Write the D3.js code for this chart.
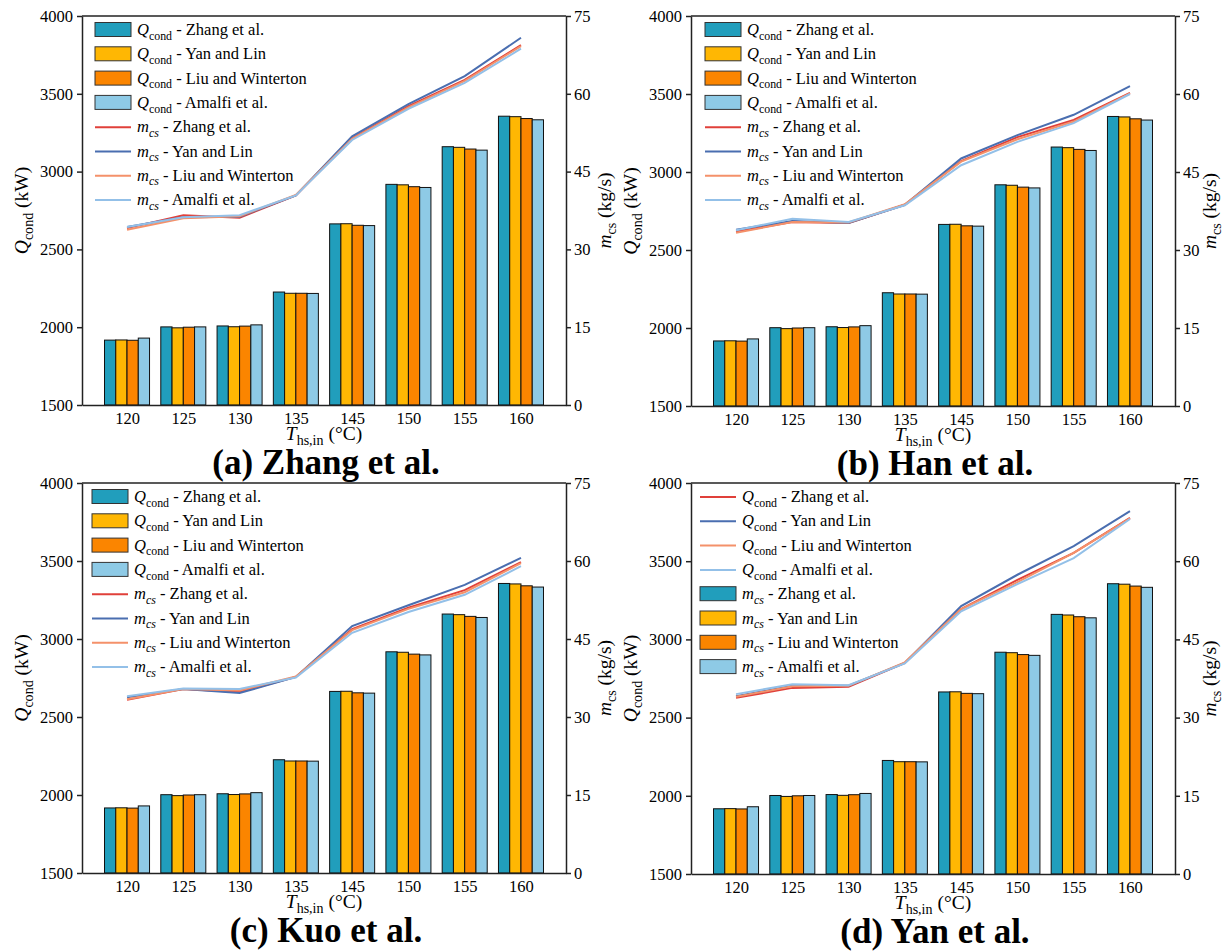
<!DOCTYPE html>
<html>
<head>
<meta charset="utf-8">
<script src="https://cdn.jsdelivr.net/npm/d3@7"></script>
<style>
  body { margin: 0; background: #fff; }
  svg { display: block; }
  text { font-family: "Liberation Serif", "Times New Roman", serif; fill: #000; }
</style>
</head>
<body>
<svg id="chart" width="1226" height="951"></svg>
<script>
// Heat-source inlet temperatures (°C)
const categories = ["120", "125", "130", "135", "145", "150", "155", "160"];
const qTicks = [1500, 2000, 2500, 3000, 3500, 4000];
const mTicks = [0, 15, 30, 45, 60, 75];
const correlations = ["Zhang et al.", "Yan and Lin", "Liu and Winterton", "Amalfi et al."];
const panelTitles = ["(a) Zhang et al.", "(b) Han et al.", "(c) Kuo et al.", "(d) Yan et al."];

// Condenser heat load Q_cond (kW) per condensation correlation
const qcondZhang  = [1917, 2002, 2008, 2226, 2664, 2918, 3160, 3356];
const qcondYan    = [1918, 1996, 2003, 2218, 2665, 2915, 3156, 3353];
const qcondLiu    = [1916, 2000, 2007, 2218, 2655, 2903, 3145, 3341];
const qcondAmalfi = [1930, 2002, 2015, 2217, 2653, 2898, 3138, 3333];

// Cooling-stream mass flow m_cs (kg/s), panel (a) Zhang et al. evaporation
const mcsA_Zhang  = [34.1, 36.6, 36.1, 40.4, 51.4, 57.6, 62.7, 69.4];
const mcsA_Yan    = [34.3, 36.2, 36.3, 40.4, 51.8, 58.0, 63.4, 70.8];
const mcsA_Liu    = [33.8, 36.0, 36.4, 40.5, 51.3, 57.4, 62.5, 69.2];
const mcsA_Amalfi = [34.3, 36.2, 36.6, 40.4, 51.1, 57.1, 62.1, 68.7];
// panel (b) Han et al.
const mcsB_Zhang  = [33.5, 35.4, 35.2, 38.7, 47.1, 51.7, 55.0, 60.2];
const mcsB_Yan    = [33.9, 35.6, 35.2, 38.7, 47.6, 52.1, 56.0, 61.5];
const mcsB_Liu    = [33.3, 35.4, 35.3, 38.8, 47.0, 51.3, 54.7, 60.1];
const mcsB_Amalfi = [33.8, 36.0, 35.4, 38.6, 46.3, 50.8, 54.4, 60.0];
// panel (c) Kuo et al.
const mcsC_Zhang  = [33.3, 35.4, 34.8, 37.7, 46.9, 51.0, 54.4, 59.8];
const mcsC_Yan    = [33.8, 35.4, 34.6, 37.7, 47.5, 51.5, 55.4, 60.6];
const mcsC_Liu    = [33.4, 35.4, 35.1, 37.8, 46.7, 50.8, 54.0, 59.6];
const mcsC_Amalfi = [34.0, 35.5, 35.4, 37.6, 46.2, 50.2, 53.5, 59.0];
// panel (d) Yan et al.
const mcsD_Zhang  = [33.8, 35.7, 35.9, 40.5, 50.8, 56.4, 61.6, 68.3];
const mcsD_Yan    = [34.1, 36.1, 36.1, 40.5, 51.4, 57.4, 62.9, 69.6];
const mcsD_Liu    = [34.0, 36.0, 36.1, 40.6, 50.8, 56.0, 61.6, 68.2];
const mcsD_Amalfi = [34.5, 36.4, 36.2, 40.4, 50.4, 55.6, 60.6, 68.1];

const barColors  = ["#219EBC", "#FFB703", "#FB8500", "#8ECAE6"];
const lineColors = ["#E0403A", "#4A6EB0", "#F4916A", "#93C0E8"];

const barSeries = [qcondZhang, qcondYan, qcondLiu, qcondAmalfi];
const lineSeries = [
  [mcsA_Zhang, mcsA_Yan, mcsA_Liu, mcsA_Amalfi],
  [mcsB_Zhang, mcsB_Yan, mcsB_Liu, mcsB_Amalfi],
  [mcsC_Zhang, mcsC_Yan, mcsC_Liu, mcsC_Amalfi],
  [mcsD_Zhang, mcsD_Yan, mcsD_Liu, mcsD_Amalfi]
];

// Panel frames
const panels = [
  { x0: 82,  x1: 566,  y0: 16,  y1: 405, legendDx: 13, rightDx: 45, swapLegend: false },
  { x0: 691, x1: 1175, y0: 16,  y1: 406, legendDx: 14, rightDx: 41, swapLegend: false },
  { x0: 82,  x1: 566,  y0: 483, y1: 873, legendDx: 10, rightDx: 45, swapLegend: false },
  { x0: 691, x1: 1175, y0: 483, y1: 874, legendDx: 9,  rightDx: 41, swapLegend: true }
];

const svg = d3.select("#chart");
const serif = "'Liberation Serif', 'Times New Roman', serif";
const tickFont = 16.5, labelFont = 19.5, legendFont = 16.5;

// Writes a run of text parts (italic / subscript) into a text element
function rich(textSel, parts, fs) {
  let shifted = false;
  parts.forEach(p => {
    const ts = textSel.append("tspan").text(p.t);
    if (p.italic) ts.attr("font-style", "italic");
    if (p.sub) {
      ts.attr("font-size", fs * 0.72);
      if (!shifted) { ts.attr("dy", fs * 0.28); shifted = true; }
    } else {
      ts.attr("font-size", fs);
      if (shifted) { ts.attr("dy", -fs * 0.28); shifted = false; }
    }
  });
}

const qLabel = [{ t: "Q", italic: true }, { t: "cond", sub: true }, { t: " (kW)" }];
const mLabel = [{ t: "m", italic: true }, { t: "cs", sub: true }, { t: " (kg/s)" }];
const tLabel = [{ t: "T", italic: true }, { t: "hs,in", sub: true }, { t: " (°C)" }];

panels.forEach((p, pi) => {
  const g = svg.append("g");
  const x = d3.scalePoint().domain(categories).range([p.x0, p.x1]).padding(0.8);
  const yQ = d3.scaleLinear().domain([1500, 4000]).range([p.y1, p.y0]);
  const yM = d3.scaleLinear().domain([0, 75]).range([p.y1, p.y0]);
  const groupW = x.step() * 0.8;
  const barW = groupW / 4;

  // grouped bars
  barSeries.forEach((vals, j) => {
    g.append("g").selectAll("rect").data(vals).join("rect")
      .attr("x", (d, i) => x(categories[i]) - groupW / 2 + j * barW)
      .attr("y", d => yQ(d))
      .attr("width", barW)
      .attr("height", d => yQ(1500) - yQ(d))
      .attr("fill", barColors[j])
      .attr("stroke", "#111")
      .attr("stroke-width", 1);
  });

  // m_cs lines
  const line = d3.line().x((d, i) => x(categories[i])).y(d => yM(d));
  lineSeries[pi].forEach((vals, j) => {
    g.append("path").datum(vals)
      .attr("d", line)
      .attr("fill", "none")
      .attr("stroke", lineColors[j])
      .attr("stroke-width", 2);
  });

  // axes
  const styleAxis = a => {
    a.attr("font-family", null).attr("font-size", null);
    a.selectAll(".domain").attr("stroke", "#222").attr("stroke-width", 1.5);
    a.selectAll(".tick line").attr("stroke", "#222").attr("stroke-width", 1.5);
    a.selectAll("text").attr("font-size", tickFont);
  };
  g.append("g").attr("transform", `translate(${p.x0},0)`)
    .call(d3.axisLeft(yQ).tickValues(qTicks).tickFormat(d3.format("d"))
      .tickSize(5).tickSizeOuter(0).tickPadding(4))
    .call(styleAxis);
  g.append("g").attr("transform", `translate(${p.x1},0)`)
    .call(d3.axisRight(yM).tickValues(mTicks).tickFormat(d3.format("d"))
      .tickSize(5).tickSizeOuter(0).tickPadding(3))
    .call(styleAxis);
  g.append("g").attr("transform", `translate(0,${p.y1})`)
    .call(d3.axisBottom(x).tickSize(0).tickSizeOuter(0).tickPadding(7))
    .call(styleAxis);
  g.append("line").attr("x1", p.x0).attr("x2", p.x1).attr("y1", p.y0).attr("y2", p.y0)
    .attr("stroke", "#222").attr("stroke-width", 1.5);

  // axis titles
  const cy = (p.y0 + p.y1) / 2, cx = (p.x0 + p.x1) / 2;
  const lt = g.append("text").attr("text-anchor", "middle")
    .attr("transform", `translate(${p.x0 - 54},${cy}) rotate(-90)`);
  rich(lt, qLabel, labelFont);
  const rt = g.append("text").attr("text-anchor", "middle")
    .attr("transform", `translate(${p.x1 + p.rightDx},${cy}) rotate(-90)`);
  rich(rt, mLabel, labelFont);
  const bt = g.append("text").attr("text-anchor", "middle")
    .attr("x", cx).attr("y", p.y1 + 35);
  rich(bt, tLabel, labelFont);

  // panel title
  g.append("text").attr("x", cx + 2).attr("y", p.y1 + 69)
    .attr("text-anchor", "middle").attr("font-weight", "bold").attr("font-size", 35)
    .text(panelTitles[pi]);

  // legend
  const barItems = correlations.map((c, j) => ({ kind: "bar", j, sym: p.swapLegend ? "m" : "Q", name: c }));
  const lineItems = correlations.map((c, j) => ({ kind: "line", j, sym: p.swapLegend ? "Q" : "m", name: c }));
  const items = p.swapLegend ? lineItems.concat(barItems) : barItems.concat(lineItems);
  const lx = p.x0 + p.legendDx;
  items.forEach((it, k) => {
    const yc = p.y0 + 14 + k * 24.3;
    if (it.kind === "bar") {
      g.append("rect").attr("x", lx).attr("y", yc - 7.5).attr("width", 36).attr("height", 14)
        .attr("fill", barColors[it.j]).attr("stroke", "#333").attr("stroke-width", 1);
    } else {
      g.append("line").attr("x1", lx).attr("x2", lx + 36).attr("y1", yc).attr("y2", yc)
        .attr("stroke", lineColors[it.j]).attr("stroke-width", 2);
    }
    const t = g.append("text").attr("x", lx + 42).attr("y", yc + 5);
    const parts = it.sym === "Q"
      ? [{ t: "Q", italic: true }, { t: "cond", sub: true }, { t: " - " + it.name }]
      : [{ t: "m", italic: true }, { t: "cs", sub: true, italic: true }, { t: " - " + it.name }];
    rich(t, parts, legendFont);
  });
});

svg.selectAll("text").style("font-family", serif);
</script>
</body>
</html>
